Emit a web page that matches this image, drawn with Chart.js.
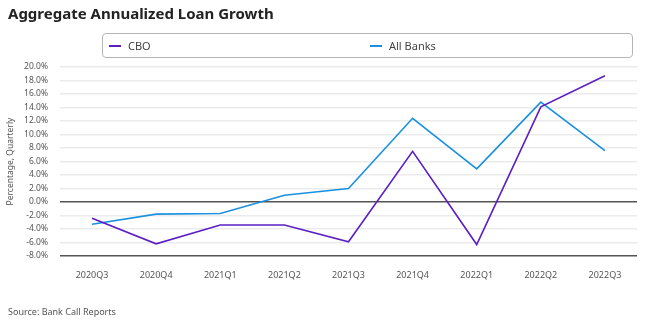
<!DOCTYPE html>
<html>
<head>
<meta charset="utf-8">
<script src="https://cdn.jsdelivr.net/npm/chart.js@4.4.0/dist/chart.umd.min.js"></script>
<style>
  body { margin: 0; background: #fff; font-family: "Noto Sans", sans-serif; }
  #wrap { position: relative; width: 650px; height: 324px; }
  #title { position: absolute; left: 8px; top: 3px; font-size: 15px; font-weight: bold; color: #222; }
  #legend { position: absolute; left: 102px; top: 33px; width: 529px; height: 23px; border: 1px solid #b5b5b5; border-radius: 4px; font-size: 11px; color: #444; }
  .item { position: absolute; top: 4px; }
  .item span { display: inline-block; width: 12px; height: 2px; vertical-align: middle; margin-right: 7px; margin-top: -2px; }
  #source { position: absolute; left: 8px; top: 305px; font-size: 9px; color: #555; }
</style>
</head>
<body>
<div id="wrap">
  <canvas id="myChart" width="650" height="324"></canvas>
  <div id="title">Aggregate Annualized Loan Growth</div>
  <div id="legend">
    <div class="item" style="left:6px"><span style="background:#5b1fc4"></span>CBO</div>
    <div class="item" style="left:267px"><span style="background:#1a90e0"></span>All Banks</div>
  </div>
  <div id="source">Source: Bank Call Reports</div>
</div>
<script>
const quarters = ['2020Q3', '2020Q4', '2021Q1', '2021Q2', '2021Q3', '2021Q4', '2022Q1', '2022Q2', '2022Q3'];
const cbo = [-2.4, -6.2, -3.4, -3.4, -5.9, 7.5, -6.3, 14.1, 18.7];
const allBanks = [-3.3, -1.8, -1.7, 1.0, 2.0, 12.4, 4.9, 14.8, 7.6];

const ctx = document.getElementById('myChart').getContext('2d');

const config = {
  type: 'line',
  data: {
    labels: quarters,
    datasets: [
      { label: 'CBO', data: cbo, borderColor: '#5b1fc4', borderWidth: 1.6, pointRadius: 0, tension: 0 },
      { label: 'All Banks', data: allBanks, borderColor: '#1a90e0', borderWidth: 1.6, pointRadius: 0, tension: 0 }
    ]
  },
  options: {
    responsive: false,
    animation: false,
    layout: { padding: { top: 67, right: 13, left: 0, bottom: 0 } },
    plugins: { legend: { display: false }, tooltip: { enabled: false } },
    scales: {
      x: {
        offset: true,
        grid: { display: false },
        border: { display: false },
        ticks: { color: '#555', font: { family: 'Noto Sans', size: 9 }, padding: 6, maxRotation: 0 },
        afterFit: s => { s.height = 68; }
      },
      y: {
        min: -8,
        max: 20,
        ticks: {
          stepSize: 2,
          color: '#555',
          font: { family: 'Noto Sans', size: 8.5 },
          padding: 12,
          callback: v => v.toFixed(1) + '%'
        },
        grid: {
          drawTicks: false,
          // zero line and bottom line are dark, the rest light
          color: c => (c.tick.value === 0 || c.tick.value === -8) ? '#555' : '#ebebeb',
          lineWidth: 1.6
        },
        border: { display: false },
        title: { display: true, text: 'Percentage, Quarterly', color: '#555', font: { family: 'Noto Sans', size: 8.5 }, padding: { top: 5, bottom: 0 } },
        afterFit: s => { s.width = 60; }
      }
    }
  }
};

const myChart = new Chart(ctx, config);
</script>
</body>
</html>
